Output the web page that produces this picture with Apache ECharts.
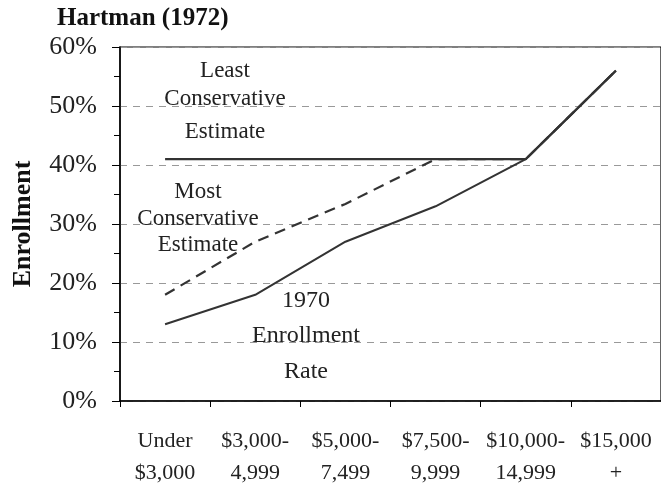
<!DOCTYPE html>
<html>
<head>
<meta charset="utf-8">
<script src="https://cdn.jsdelivr.net/npm/echarts@6/dist/echarts.min.js"></script>
<style>
html,body{margin:0;padding:0;background:#fff;}
#c{width:661px;height:489px;}
</style>
</head>
<body>
<div id="c"></div>
<script>
const categories = ['Under\n$3,000', '$3,000-\n4,999', '$5,000-\n7,499', '$7,500-\n9,999', '$10,000-\n14,999', '$15,000\n+'];
const leastConservative = [41, 41, 41, 41, 41, 56];
const enrollment1970 = [13, 18, 27, 33, 41, 56];
const mostConservative = [18, 27, 33.4, 41, 41, 56];
const yTicks = [0, 10, 20, 30, 40, 50, 60];

const serif = '"Liberation Serif", "DejaVu Serif", serif';
const chart = echarts.init(document.getElementById('c'));
const lineColor = '#333';

function annot(lines, cx, ys, size) {
  return lines.map((t, i) => ({
    type: 'text', x: cx, y: ys[i],
    style: { text: t, font: size + 'px ' + serif, fill: '#222', align: 'center', verticalAlign: 'middle' },
    z: 100
  }));
}

chart.setOption({
  animation: false,
  backgroundColor: '#fff',
  title: {
    text: 'Hartman (1972)', left: 57, top: 6, padding: 0,
    textStyle: { fontFamily: serif, fontWeight: 'bold', fontSize: 25, color: '#111' }
  },
  grid: { left: 120, top: 47, width: 551, height: 356, show: true, borderColor: '#000', borderWidth: 1.2, backgroundColor: 'transparent' },
  xAxis: {
    type: 'category', data: categories, boundaryGap: true,
    axisLine: { lineStyle: { color: '#000', width: 1.5 } },
    axisTick: { show: true, length: 6, lineStyle: { color: '#000' }, alignWithLabel: false },
    axisLabel: { fontFamily: serif, fontSize: 22, color: '#222', lineHeight: 32, margin: 24, interval: 0 },
    splitLine: { show: false }
  },
  yAxis: {
    type: 'value', min: yTicks[0], max: yTicks[yTicks.length - 1], interval: 10,
    name: 'Enrollment', nameLocation: 'middle', nameGap: 84, nameRotate: 90,
    nameTextStyle: { fontFamily: serif, fontWeight: 'bold', fontSize: 26, color: '#111' },
    axisLine: { show: true, lineStyle: { color: '#000', width: 1.5 } },
    axisTick: { show: true, length: 8, lineStyle: { color: '#000' } },
    minorTick: { show: true, splitNumber: 2, length: 6, lineStyle: { color: '#000' } },
    axisLabel: { fontFamily: serif, fontSize: 26, color: '#222', margin: 23, formatter: v => v + '%' },
    splitLine: { show: true, lineStyle: { color: '#999', type: [7, 6], width: 1 } }
  },
  series: [
    { name: 'Least Conservative Estimate', type: 'line', data: leastConservative, symbol: 'none',
      lineStyle: { color: lineColor, width: 2.2 }, z: 2 },
    { name: '1970 Enrollment Rate', type: 'line', data: enrollment1970, symbol: 'none',
      lineStyle: { color: lineColor, width: 2 }, z: 3 },
    { name: 'Most Conservative Estimate', type: 'line', data: mostConservative, symbol: 'none',
      lineStyle: { color: lineColor, width: 2.2, type: [11, 7] }, z: 4 }
  ],
  graphic: [].concat(
    annot(['Least', 'Conservative', 'Estimate'], 225, [71, 99, 132], 23),
    annot(['Most', 'Conservative', 'Estimate'], 198, [192, 219, 245], 23),
    annot(['1970', 'Enrollment', 'Rate'], 306, [301, 336, 372], 24)
  )
});
</script>
</body>
</html>
